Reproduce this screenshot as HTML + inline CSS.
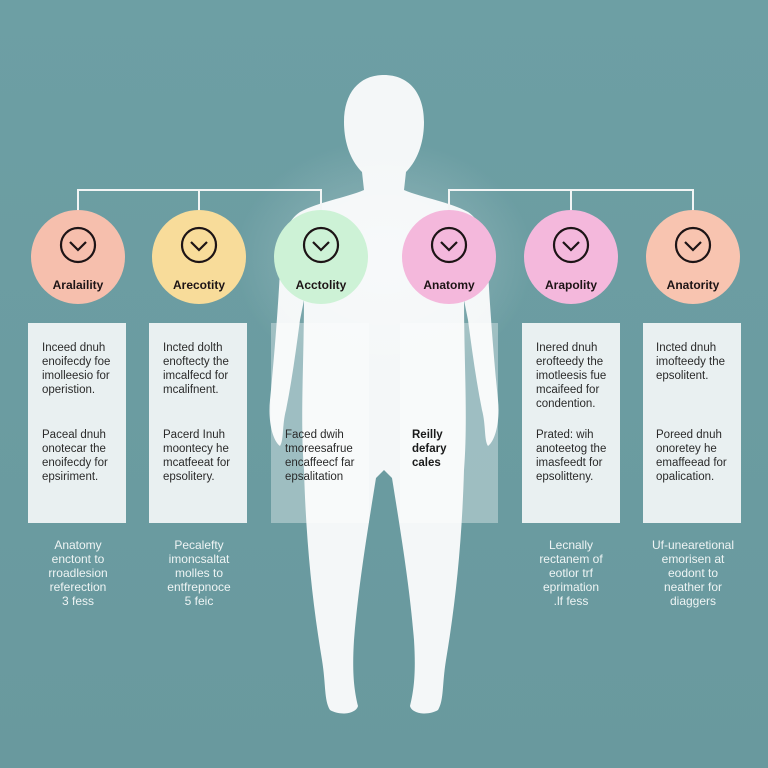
<!DOCTYPE html>
<html><head><meta charset="utf-8"><style>
html,body{margin:0;padding:0;background:#6b9ca1;}
svg{display:block}
text{font-family:"Liberation Sans",sans-serif}
</style></head><body>
<svg width="768" height="768" viewBox="0 0 768 768" xmlns="http://www.w3.org/2000/svg">
<defs>
<linearGradient id="bg" x1="0" y1="0" x2="0" y2="1"><stop offset="0" stop-color="#6d9fa4"/><stop offset="1" stop-color="#69999e"/></linearGradient>
<radialGradient id="glow" cx="0.5" cy="0.5" r="0.5"><stop offset="0" stop-color="#ffffff" stop-opacity="0.3"/><stop offset="1" stop-color="#ffffff" stop-opacity="0"/></radialGradient>
</defs>
<rect width="768" height="768" fill="url(#bg)"/>
<!-- body -->
<g fill="#f4f7f8">
<path d="M384 75 C360 75 344 92 344 122 C344 145 352 162 362 172 L364 190 C345 198 318 202 300 212 C285 222 282 240 280 270 C278 310 274 360 270 400 C268 420 272 440 280 446 C284 440 282 425 286 410 C292 380 296 350 300 320 L304 300 C304 360 300 420 304 470 C306 540 312 600 322 660 C326 685 324 700 330 710 C340 716 356 714 358 706 C354 690 352 672 354 640 C358 590 366 540 376 478 L384 470 L392 478 C402 540 410 590 414 640 C416 672 414 690 410 706 C412 714 428 716 438 710 C444 700 442 685 446 660 C456 600 462 540 464 470 C468 420 464 360 464 300 L468 320 C472 350 476 380 482 410 C486 425 484 440 488 446 C496 440 500 420 498 400 C494 360 490 310 488 270 C486 240 483 222 468 212 C450 202 423 198 404 190 L406 172 C416 162 424 145 424 122 C424 92 408 75 384 75 Z"/>
</g>
<ellipse cx="384" cy="260" rx="150" ry="120" fill="url(#glow)"/>
<!-- connectors -->
<g stroke="#f2f5f5" stroke-width="2" fill="none">
<path d="M78 212 V190 H321 V212 M199 190 V212"/>
<path d="M449 212 V190 H693 V212 M571 190 V212"/>
</g>
<!-- circles -->
<g>
<circle cx="78" cy="257" r="47" fill="#f6bfad"/>
<circle cx="199" cy="257" r="47" fill="#f8dc9a"/>
<circle cx="321" cy="257" r="47" fill="#cdf2d6"/>
<circle cx="449" cy="257" r="47" fill="#f4b8dc"/>
<circle cx="571" cy="257" r="47" fill="#f4b8dc"/>
<circle cx="693" cy="257" r="47" fill="#f8c4b0"/>
</g>
<g stroke="#1d1416" stroke-width="2.2" fill="none">
<circle cx="78" cy="245" r="17"/><path d="M70 242 L78 250 L86 242"/>
<circle cx="199" cy="245" r="17"/><path d="M191 242 L199 250 L207 242"/>
<circle cx="321" cy="245" r="17"/><path d="M313 242 L321 250 L329 242"/>
<circle cx="449" cy="245" r="17"/><path d="M441 242 L449 250 L457 242"/>
<circle cx="571" cy="245" r="17"/><path d="M563 242 L571 250 L579 242"/>
<circle cx="693" cy="245" r="17"/><path d="M685 242 L693 250 L701 242"/>
</g>
<g font-size="12" font-weight="bold" fill="#1d1416" text-anchor="middle">
<text x="78" y="289">Aralaility</text>
<text x="199" y="289">Arecotity</text>
<text x="321" y="289">Acctolity</text>
<text x="449" y="289">Anatomy</text>
<text x="571" y="289">Arapolity</text>
<text x="693" y="289">Anatority</text>
</g>
<!-- boxes -->
<g>
<rect x="28" y="323" width="98" height="200" fill="#e9f0f1"/>
<rect x="149" y="323" width="98" height="200" fill="#e9f0f1"/>
<rect x="271" y="323" width="98" height="200" fill="#ffffff" fill-opacity="0.35"/>
<rect x="400" y="323" width="98" height="200" fill="#ffffff" fill-opacity="0.35"/>
<rect x="522" y="323" width="98" height="200" fill="#e9f0f1"/>
<rect x="643" y="323" width="98" height="200" fill="#e9f0f1"/>
</g>
<g font-size="11.5" fill="#2a2a2a">
<text x="42" y="351">Inceed dnuh</text><text x="42" y="365">enoifecdy foe</text><text x="42" y="379">imolleesio for</text><text x="42" y="393">operistion.</text>
<text x="42" y="438">Paceal dnuh</text><text x="42" y="452">onotecar the</text><text x="42" y="466">enoifecdy for</text><text x="42" y="480">epsiriment.</text>
<text x="163" y="351">Incted dolth</text><text x="163" y="365">enoftecty the</text><text x="163" y="379">imcalfecd for</text><text x="163" y="393">mcalifnent.</text>
<text x="163" y="438">Pacerd Inuh</text><text x="163" y="452">moontecy he</text><text x="163" y="466">mcatfeeat for</text><text x="163" y="480">epsolitery.</text>
<text x="285" y="438">Faced dwih</text><text x="285" y="452">tmoreesafrue</text><text x="285" y="466">encaffeecf far</text><text x="285" y="480">epsalitation</text>
<text x="412" y="438" font-weight="bold" fill="#1a1a1a">Reilly</text><text x="412" y="452" font-weight="bold" fill="#1a1a1a">defary</text><text x="412" y="466" font-weight="bold" fill="#1a1a1a">cales</text>
<text x="536" y="351">Inered dnuh</text><text x="536" y="365">erofteedy the</text><text x="536" y="379">imotleesis fue</text><text x="536" y="393">mcaifeed for</text><text x="536" y="407">condention.</text>
<text x="536" y="438">Prated: wih</text><text x="536" y="452">anoteetog the</text><text x="536" y="466">imasfeedt for</text><text x="536" y="480">epsolitteny.</text>
<text x="656" y="351">Incted dnuh</text><text x="656" y="365">imofteedy the</text><text x="656" y="379">epsolitent.</text>
<text x="656" y="438">Poreed dnuh</text><text x="656" y="452">onoretey he</text><text x="656" y="466">emaffeead for</text><text x="656" y="480">opalication.</text>
</g>
<g font-size="12" fill="#eef4f4" text-anchor="middle">
<text x="78" y="549">Anatomy</text><text x="78" y="563">enctont to</text><text x="78" y="577">rroadlesion</text><text x="78" y="591">referection</text><text x="78" y="605">3 fess</text>
<text x="199" y="549">Pecalefty</text><text x="199" y="563">imoncsaltat</text><text x="199" y="577">molles to</text><text x="199" y="591">entfrepnoce</text><text x="199" y="605">5 feic</text>
<text x="571" y="549">Lecnally</text><text x="571" y="563">rectanem of</text><text x="571" y="577">eotlor trf</text><text x="571" y="591">eprimation</text><text x="571" y="605">.lf fess</text>
<text x="693" y="549">Uf-unearetional</text><text x="693" y="563">emorisen at</text><text x="693" y="577">eodont to</text><text x="693" y="591">neather for</text><text x="693" y="605">diaggers</text>
</g>
</svg>
</body></html>
